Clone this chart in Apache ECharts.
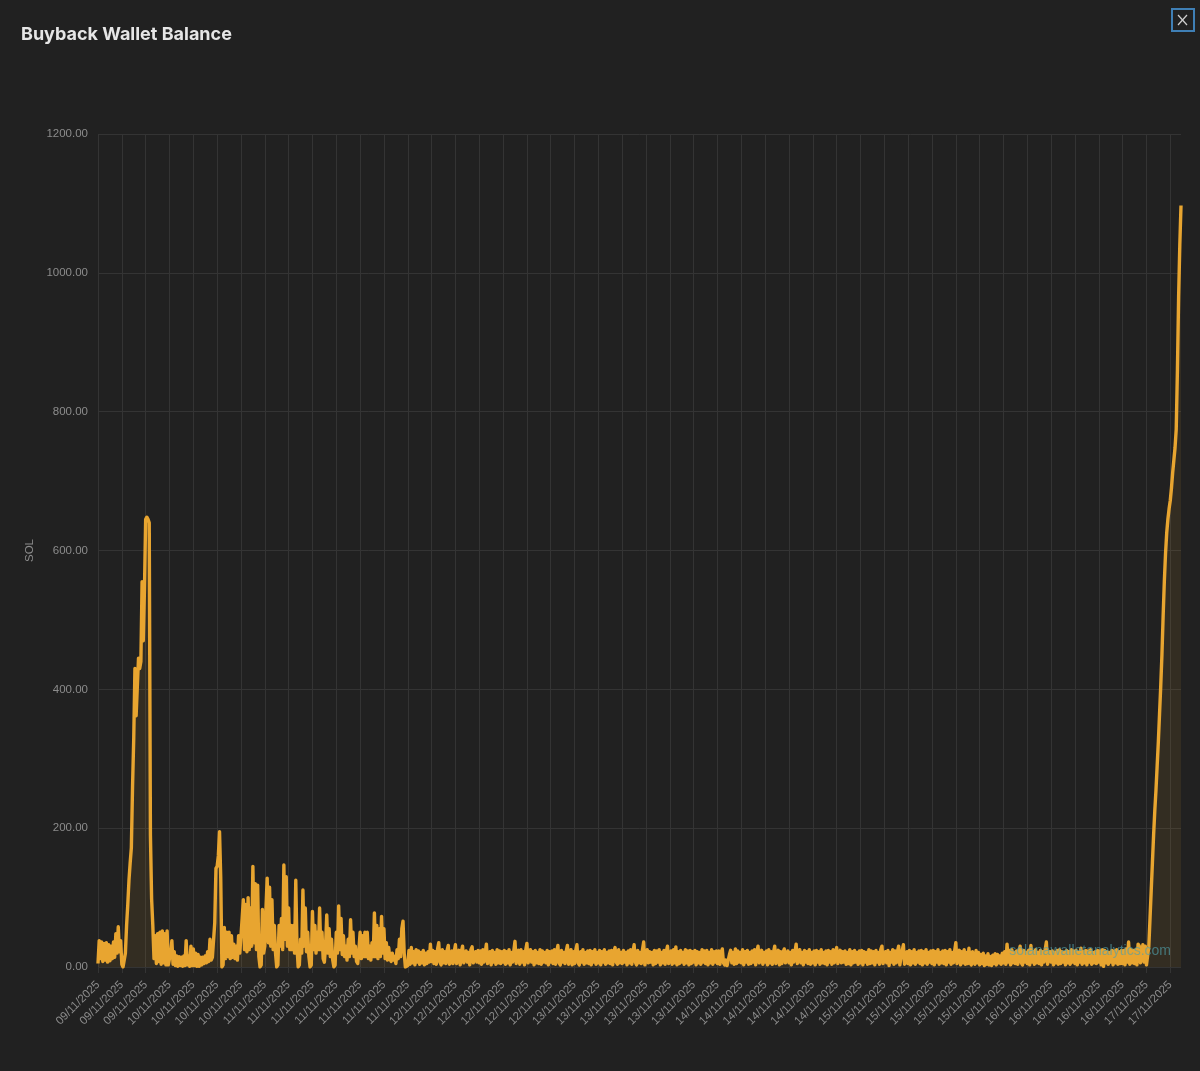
<!doctype html>
<html lang="en">
<head>
<meta charset="UTF-8">
<title>Buyback Wallet Balance</title>
<style>
  html, body { margin: 0; padding: 0; background: #212121; }
  #main { width: 1200px; height: 1071px; }
</style>
<script src="https://cdn.jsdelivr.net/npm/echarts@6/dist/echarts.min.js"></script>
</head>
<body>
<div id="main"></div>
<script>
// one label every 20 samples
var tickLabels = [
  '09/11/2025','09/11/2025','09/11/2025','10/11/2025','10/11/2025','10/11/2025','10/11/2025',
  '11/11/2025','11/11/2025','11/11/2025','11/11/2025','11/11/2025','11/11/2025','11/11/2025',
  '12/11/2025','12/11/2025','12/11/2025','12/11/2025','12/11/2025','12/11/2025',
  '13/11/2025','13/11/2025','13/11/2025','13/11/2025','13/11/2025','13/11/2025',
  '14/11/2025','14/11/2025','14/11/2025','14/11/2025','14/11/2025','14/11/2025',
  '15/11/2025','15/11/2025','15/11/2025','15/11/2025','15/11/2025','15/11/2025',
  '16/11/2025','16/11/2025','16/11/2025','16/11/2025','16/11/2025','16/11/2025',
  '17/11/2025','17/11/2025'
];
var yTicks = [0, 200, 400, 600, 800, 1000, 1200];

// values, SOL, one row per tick
var balanceSpike = [
  5,38,12,36,8,34,10,35,7,32,9,30,12,36,14,48,20,58,22,38,
  4,0,0,20,60,90,125,150,172,260,330,430,362,360,445,430,440,555,470,545,
  645,648,645,640,190,98,60,12,45,5,48,8,50,4,52,6,48,3,52,3,
  12,20,38,4,22,2,16,1,15,2,14,1,16,2,38,3,16,1,30,2,
  26,2,20,1,18,1,14,3,14,5,16,6,22,8,40,10,14,12,64,142,
  145,160,195,130,0,3,57,12,50,15,50,12,45,14,33,12,30,10,45,20,
  22,70,97,25,90,22,100,25,85,30,145,35,120,25,118,15,0,3,83,20,
  30,85,128,35,115,30,97,25,60,20,0,3,60,30,70,25,147,40,130,30,
  85,25,60,25,60,20,125,30,0,3,40,20,111,30,85,22,50,15,0,3,
  80,25,60,20,50,25,85,25,50,12,7,30,75,20,55,15,40,10,0,3,
  50,20,88,25,70,18,45,15,30,10,40,15,68,20,50,15,30,8,5,25,
  50,12,45,15,50,15,50,12,30,10,35,15,78,15,60,12,55,15,73,20,
  55,12,35,10,28,12,8,20,10,15,5,25,12,40,15,55,66,20,0,1
];
var balanceFlat = [
  2,24,4,28,6,22,3,25,7,23,4,21,6,24,3,20,5,22,7,33,
  8,24,5,22,4,26,35,7,3,25,6,22,5,24,31,4,7,23,5,22,
  32,5,7,24,3,22,30,6,4,23,7,21,3,25,29,6,5,22,7,24,
  6,23,4,25,7,21,33,5,6,22,3,24,7,21,4,25,6,23,5,22,
  7,24,4,22,6,25,3,21,7,23,37,5,6,24,4,25,7,22,3,24,
  34,6,4,25,7,22,3,24,6,21,5,25,4,23,7,21,6,24,3,22,
  7,23,5,25,4,22,31,6,3,24,7,21,5,23,31,4,6,25,3,22,
  5,24,32,6,3,22,7,25,4,21,6,23,5,24,3,22,7,25,4,21,
  6,24,3,22,7,25,4,21,6,23,5,24,3,22,28,7,4,25,6,21,
  5,24,7,21,3,23,6,25,4,22,32,7,3,24,6,21,5,25,36,3,
  4,25,6,22,7,21,3,24,5,23,7,25,3,21,6,24,4,22,30,5,
  7,23,4,25,6,29,3,22,5,24,7,21,4,25,6,23,3,24,5,22,
  7,24,3,22,6,21,4,25,7,23,5,24,3,21,6,25,4,22,7,23,
  5,23,4,21,26,6,3,10,2,4,18,24,6,21,4,26,5,23,7,21,
  6,25,3,22,7,24,4,21,5,23,7,25,3,22,30,6,5,24,4,21,
  7,23,3,25,6,22,4,21,30,5,7,24,3,22,5,21,26,6,4,23,
  6,21,3,24,7,22,33,5,4,25,6,21,3,24,7,22,5,25,4,21,
  6,23,3,24,7,22,4,25,6,21,5,23,3,24,7,22,4,25,6,21,
  28,5,3,24,6,22,7,23,4,21,5,25,3,22,6,24,7,21,4,23,
  6,24,3,22,7,21,4,25,5,23,6,22,3,24,7,21,4,25,30,5,
  3,22,6,24,2,21,7,25,4,23,6,22,30,3,5,24,32,4,7,22,
  5,24,3,22,6,25,4,21,7,23,5,24,3,22,6,25,4,21,7,23,
  5,24,3,22,7,25,4,21,6,23,5,24,3,22,7,25,4,21,6,23,
  35,5,7,24,3,22,6,25,4,21,5,27,6,3,22,7,4,24,6,21,
  3,18,5,20,2,16,4,19,3,15,2,17,5,19,3,18,6,16,4,20,
  6,22,4,33,7,24,3,25,6,21,5,23,4,22,30,6,3,24,7,21,
  5,24,3,31,7,22,4,25,6,21,5,24,3,22,7,25,36,4,6,22,
  7,23,3,21,6,24,4,25,5,22,7,21,3,24,6,22,4,25,7,23,
  5,24,3,21,7,27,4,22,6,24,3,23,7,25,4,21,6,22,5,24,
  7,23,3,25,1,24,6,22,4,21,7,24,3,23,6,25,4,22,5,24,
  5,24,3,26,7,36,4,25,6,24,5,25,3,33,30,6,4,32,7,30
];
var balanceRise = [
  3,5,30,70,110,150,190,225,255,290,325,365,405,450,505,
  555,595,625,645,660,672,690,712,730,748,775,860,965,1040,1097
];

var balance = balanceSpike.concat(balanceFlat, balanceRise);
var categories = balance.map(function (v, i) {
    return tickLabels[Math.floor(i / 20)];
});

var myChart = echarts.init(document.getElementById('main'));

var option = {
    backgroundColor: '#212121',
    animation: false,
    textStyle: { fontFamily: 'Liberation Sans' },
    title: {
        text: 'Buyback Wallet Balance',
        left: 21,
        top: 26,
        padding: 0,
        textStyle: { color: '#e6e6e6', fontFamily: 'Inter', fontWeight: 700, fontSize: 18 }
    },
    grid: { left: 98, right: 19, top: 134, bottom: 104 },
    xAxis: {
        type: 'category',
        boundaryGap: false,
        data: categories,
        axisLine: { show: false },
        axisTick: { show: true, interval: 19, length: 6, lineStyle: { color: '#343434' } },
        axisLabel: {
            interval: 19,
            rotate: 45,
            color: '#8c8c8c',
            fontSize: 11.5,
            margin: 16,
            hideOverlap: false
        },
        splitLine: { show: true, interval: 19, lineStyle: { color: '#343434', width: 1 } }
    },
    yAxis: {
        type: 'value',
        min: yTicks[0],
        max: yTicks[yTicks.length - 1],
        interval: yTicks[1] - yTicks[0],
        name: 'SOL',
        nameLocation: 'middle',
        nameGap: 55,
        nameTextStyle: { color: '#8c8c8c', fontSize: 11.5 },
        axisLine: { show: false },
        axisTick: { show: false },
        axisLabel: {
            color: '#8c8c8c',
            fontSize: 11.5,
            margin: 10,
            formatter: function (v) { return v.toFixed(2); }
        },
        splitLine: { lineStyle: { color: '#343434', width: 1 } }
    },
    series: [{
        name: 'SOL',
        type: 'line',
        data: balance,
        showSymbol: false,
        lineStyle: { color: '#e8a530', width: 3.4, join: 'round' },
        itemStyle: { color: '#e8a530' },
        areaStyle: { color: 'rgba(232,165,48,0.13)' }
    }],
    graphic: [
        // close button, top right
        { type: 'rect', shape: { x: 1172, y: 9, width: 22, height: 22 }, style: { fill: 'transparent', stroke: '#3f7fb5', lineWidth: 2 } },
        { type: 'line', shape: { x1: 1178, y1: 15, x2: 1187, y2: 25 }, style: { stroke: '#cfcfcf', lineWidth: 1.2 } },
        { type: 'line', shape: { x1: 1187, y1: 15, x2: 1178, y2: 25 }, style: { stroke: '#cfcfcf', lineWidth: 1.2 } },
        // watermark over the line
        {
            type: 'text', x: 1171, y: 951, z: 100,
            style: {
                text: 'solanawalletanalytics.com',
                fill: 'rgba(80,160,170,0.65)',
                font: '14px "Liberation Sans"',
                textAlign: 'right',
                textVerticalAlign: 'middle'
            }
        }
    ]
};

myChart.setOption(option);
</script>
</body>
</html>
